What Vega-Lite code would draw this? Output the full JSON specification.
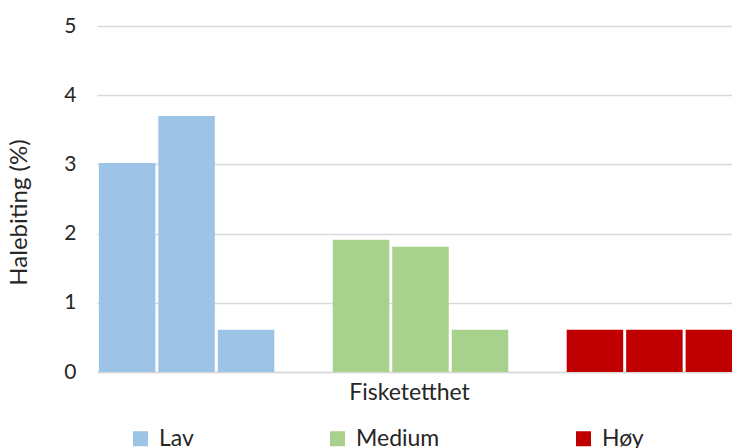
{
  "$schema": "https://vega.github.io/schema/vega-lite/v6.json",
  "autosize": {"type": "none"},
  "padding": {"left": 97, "top": 26, "right": 0, "bottom": 76},
  "width": 647,
  "height": 346,
  "config": {
    "font": "Lato",
    "view": {"stroke": null},
    "axis": {"labelColor": "#262626", "titleColor": "#262626", "titleFontWeight": "normal"},
    "legend": {"labelColor": "#262626"}
  },
  "data": {
    "values": [
      {"gruppe": "Lav", "nr": 1, "verdi": 3.02},
      {"gruppe": "Lav", "nr": 2, "verdi": 3.70},
      {"gruppe": "Lav", "nr": 3, "verdi": 0.61},
      {"gruppe": "Medium", "nr": 1, "verdi": 1.91},
      {"gruppe": "Medium", "nr": 2, "verdi": 1.81},
      {"gruppe": "Medium", "nr": 3, "verdi": 0.61},
      {"gruppe": "Høy", "nr": 1, "verdi": 0.61},
      {"gruppe": "Høy", "nr": 2, "verdi": 0.61},
      {"gruppe": "Høy", "nr": 3, "verdi": 0.61}
    ]
  },
  "mark": {"type": "bar"},
  "encoding": {
    "x": {
      "field": "gruppe",
      "type": "nominal",
      "sort": ["Lav", "Medium", "Høy"],
      "scale": {"paddingInner": 0.25, "paddingOuter": 0.008},
      "axis": {
        "title": "Fisketetthet",
        "labels": false,
        "ticks": false,
        "domainColor": "#D9D9D9",
        "domainWidth": 1.5,
        "titleFontSize": 23,
        "titlePadding": 9,
        "titleX": 312
      }
    },
    "xOffset": {
      "field": "nr",
      "type": "ordinal",
      "scale": {"paddingInner": 0.05, "paddingOuter": 0}
    },
    "y": {
      "field": "verdi",
      "type": "quantitative",
      "scale": {"domain": [0, 5], "nice": false},
      "axis": {
        "title": "Halebiting (%)",
        "values": [0, 1, 2, 3, 4, 5],
        "labelOverlap": false,
        "domain": false,
        "ticks": false,
        "labelPadding": 21,
        "labelFontSize": 21,
        "gridColor": "#D9D9D9",
        "gridWidth": 1.5,
        "titleFontSize": 24,
        "titlePadding": 32,
        "titleY": 186
      }
    },
    "color": {
      "field": "gruppe",
      "type": "nominal",
      "sort": ["Lav", "Medium", "Høy"],
      "scale": {"domain": ["Lav", "Medium", "Høy"], "range": ["#9DC3E6", "#A9D18E", "#C00000"]},
      "legend": {
        "title": null,
        "orient": "none",
        "direction": "horizontal",
        "legendX": 32,
        "legendY": 401,
        "symbolType": "square",
        "symbolSize": 225,
        "symbolStrokeWidth": 0,
        "symbolOpacity": 1,
        "labelFontSize": 23,
        "labelOffset": 7,
        "columnPadding": 132
      }
    }
  }
}
